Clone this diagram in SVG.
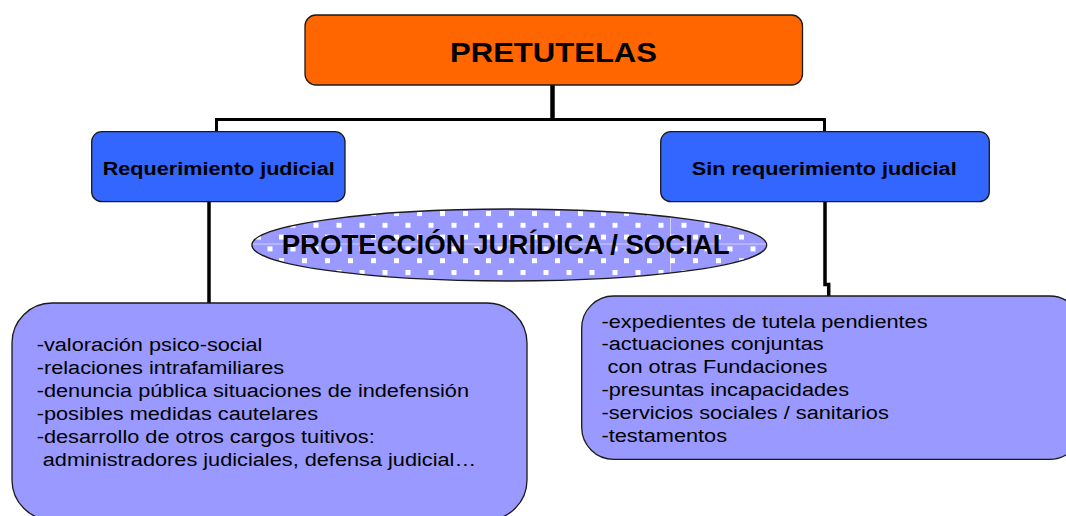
<svg xmlns="http://www.w3.org/2000/svg" width="1066" height="516" viewBox="0 0 1066 516">
  <style>
    .box { stroke: #1a1a1a; stroke-width: 1.3; }
    .orange { fill: #FF6600; }
    .blue { fill: #3366FF; }
    .lilac { fill: #9999FF; }
    .title { font-family: "Liberation Sans", Arial, sans-serif; font-weight: bold; fill: #000; }
    .body { font-family: "Liberation Sans", Arial, sans-serif; font-size: 18px; fill: #000; }
    .conn { fill: none; stroke: #000; stroke-linecap: butt; stroke-linejoin: miter; }
  </style>
  <defs>
    <pattern id="dots" patternUnits="userSpaceOnUse" x="3" y="211" width="23" height="23.6">
      <rect width="23" height="23.6" fill="#9999FF"/>
      <rect x="0" y="0" width="5" height="5" fill="#FFFFFF"/>
      <rect x="11.5" y="11.8" width="5" height="5" fill="#FFFFFF"/>
    </pattern>
    <clipPath id="ellClip">
      <ellipse cx="509.3" cy="245" rx="257.4" ry="36"/>
    </clipPath>
  </defs>
  <rect width="1066" height="516" fill="#FFFFFF"/>

  <g id="connectors">
    <line class="conn" x1="552.5" y1="84" x2="552.5" y2="120" stroke-width="4.5"/>
    <line class="conn" x1="215" y1="119.5" x2="826" y2="119.5" stroke-width="3"/>
    <line class="conn" x1="216.5" y1="118" x2="216.5" y2="132" stroke-width="3"/>
    <line class="conn" x1="824.5" y1="118" x2="824.5" y2="132" stroke-width="3"/>
    <line class="conn" x1="209" y1="202" x2="209" y2="304" stroke-width="3.5"/>
    <path class="conn" d="M825 202 V284.5 H828.7 V297" stroke-width="3.5"/>
  </g>

  <g id="node-pretutelas">
    <rect class="box orange" x="305" y="15" width="497.5" height="70" rx="11"/>
    <text class="title" x="450" y="61.7" font-size="28" textLength="207" lengthAdjust="spacingAndGlyphs">PRETUTELAS</text>
  </g>

  <g id="node-requerimiento">
    <rect class="box blue" x="91.7" y="131.7" width="253.3" height="70" rx="10"/>
    <text class="title" x="102.7" y="175" font-size="18" textLength="232" lengthAdjust="spacingAndGlyphs">Requerimiento judicial</text>
  </g>

  <g id="node-sin-requerimiento">
    <rect class="box blue" x="660.7" y="131.7" width="328.6" height="70" rx="10"/>
    <text class="title" x="691.7" y="175" font-size="18" textLength="265" lengthAdjust="spacingAndGlyphs">Sin requerimiento judicial</text>
  </g>

  <g id="node-proteccion">
    <ellipse cx="509.3" cy="245" rx="257.4" ry="36" fill="url(#dots)"/>
    <g clip-path="url(#ellClip)" stroke="#FFFFFF" stroke-width="1" opacity="0.55">
      <line x1="250" y1="244" x2="768" y2="244"/>
      <line x1="670.5" y1="205" x2="670.5" y2="285"/>
    </g>
    <ellipse cx="509.3" cy="245" rx="257.4" ry="36" fill="none" stroke="#1a1a1a" stroke-width="1.3"/>
    <text class="title" x="281.7" y="253.5" font-size="27.5" textLength="448" lengthAdjust="spacingAndGlyphs">PROTECCIÓN JURÍDICA / SOCIAL</text>
  </g>

  <g id="node-lista-judicial">
    <rect class="box lilac" x="12" y="303" width="515" height="217" rx="40"/>
    <text class="body" transform="translate(36.7 351) scale(1.208 1)">
      <tspan x="0" y="0">-valoración psico-social</tspan>
      <tspan x="0" y="23">-relaciones intrafamiliares</tspan>
      <tspan x="0" y="46">-denuncia pública situaciones de indefensión</tspan>
      <tspan x="0" y="69">-posibles medidas cautelares</tspan>
      <tspan x="0" y="92">-desarrollo de otros cargos tuitivos:</tspan>
      <tspan x="0" y="115" xml:space="preserve"> administradores judiciales, defensa judicial…</tspan>
    </text>
  </g>

  <g id="node-lista-sin-judicial">
    <rect class="box lilac" x="581.7" y="296" width="500" height="163.3" rx="32"/>
    <text class="body" transform="translate(601.5 327.7) scale(1.208 1)">
      <tspan x="0" y="0">-expedientes de tutela pendientes</tspan>
      <tspan x="0" y="22.8">-actuaciones conjuntas</tspan>
      <tspan x="0" y="45.6" xml:space="preserve"> con otras Fundaciones</tspan>
      <tspan x="0" y="68.4">-presuntas incapacidades</tspan>
      <tspan x="0" y="91.2">-servicios sociales / sanitarios</tspan>
      <tspan x="0" y="114">-testamentos</tspan>
    </text>
  </g>
</svg>
